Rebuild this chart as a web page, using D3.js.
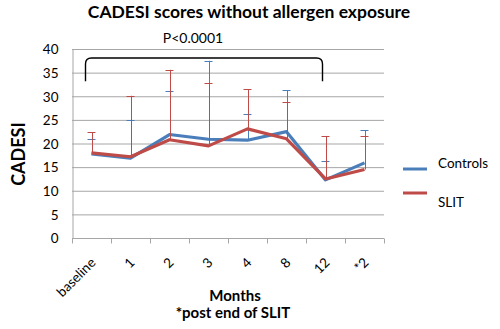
<!DOCTYPE html>
<html>
<head>
<meta charset="utf-8">
<script src="https://cdn.jsdelivr.net/npm/d3@7"></script>
<style>
body { margin: 0; background: #fff; }
text { font-family: Lato, "Open Sans", sans-serif; fill: #000; }
</style>
</head>
<body>
<div id="chart"></div>
<script>
let months = ["baseline", "1", "2", "3", "4", "8", "12", "*2"];
let controls = [17.8, 16.9, 21.9, 20.9, 20.7, 22.5, 12.3, 15.9];
let controlsErr = [3.2, 8.1, 9.3, 16.6, 5.5, 8.8, 4.0, 6.9];
let slit = [18.0, 17.2, 20.8, 19.5, 23.1, 21.0, 12.5, 14.5];
let slitErr = [4.4, 12.9, 14.8, 13.4, 8.4, 7.7, 9.1, 7.0];
let yTicks = [0, 5, 10, 15, 20, 25, 30, 35, 40];

let width = 500, height = 329;
let margin = {top: 49, right: 116, bottom: 91, left: 72};

let series = [
    {name: "Controls", values: controls, err: controlsErr, color: "#4a7ebb"},
    {name: "SLIT", values: slit, err: slitErr, color: "#be4b48"}
];

let svg = d3.select("#chart").append("svg").attr("width", width).attr("height", height);

let x = d3.scaleBand().domain(months).range([margin.left, width - margin.right]);
let y = d3.scaleLinear().domain([0, 40]).range([height - margin.bottom, margin.top]);

// gridlines
svg.append("g").selectAll("line").data(yTicks.slice(1)).enter().append("line")
    .attr("x1", margin.left).attr("x2", width - margin.right)
    .attr("y1", d => y(d) + 0.5).attr("y2", d => y(d) + 0.5)
    .attr("stroke", "#a6a6a6").attr("stroke-width", 1);

// y axis
let yAxis = svg.append("g").attr("transform", "translate(" + (margin.left + 0.5) + ",0.5)")
    .call(d3.axisLeft(y).tickValues(yTicks).tickSize(0).tickPadding(14));
yAxis.select(".domain").attr("stroke", "#a6a6a6");
yAxis.selectAll("text").style("font-size", "13.5px").style("font-family", "Lato, sans-serif");

// x axis, ticks on band edges
let xAxis = svg.append("g").attr("transform", "translate(0," + (y(0) + 0.5) + ")");
xAxis.append("line").attr("x1", margin.left).attr("x2", width - margin.right)
    .attr("stroke", "#a6a6a6");
xAxis.selectAll("line.tk").data(months.concat(["end"])).enter().append("line").attr("class", "tk")
    .attr("x1", (d, i) => Math.round(margin.left + i * x.step()) + 0.5)
    .attr("x2", (d, i) => Math.round(margin.left + i * x.step()) + 0.5)
    .attr("y1", 0).attr("y2", 5).attr("stroke", "#a6a6a6");
xAxis.selectAll("text").data(months).enter().append("text")
    .attr("transform", d => "translate(" + (x(d) + x.bandwidth() / 2 + 5) + ",25) rotate(-45)")
    .attr("text-anchor", "end").style("font-size", "13.5px").text(d => d);

// series + error bars
let line = d3.line().x((d, i) => x(months[i]) + x.bandwidth() / 2).y(d => y(d));

series.forEach(function(s) {
    let g = svg.append("g");
    g.append("path").datum(s.values).attr("d", line).attr("fill", "none")
        .attr("stroke", s.color).attr("stroke-width", 3.2).attr("stroke-linejoin", "round");
    let eb = g.selectAll("g.eb").data(s.values).enter().append("g").attr("class", "eb");
    eb.append("line")
        .attr("x1", (d, i) => Math.round(x(months[i]) + x.bandwidth() / 2) + 0.5)
        .attr("x2", (d, i) => Math.round(x(months[i]) + x.bandwidth() / 2) + 0.5)
        .attr("y1", d => y(d)).attr("y2", (d, i) => y(d + s.err[i]))
        .attr("stroke", s.color).attr("stroke-width", 1);
    eb.append("line")
        .attr("x1", (d, i) => x(months[i]) + x.bandwidth() / 2 - 4)
        .attr("x2", (d, i) => x(months[i]) + x.bandwidth() / 2 + 4)
        .attr("y1", (d, i) => Math.round(y(d + s.err[i])) + 0.5)
        .attr("y2", (d, i) => Math.round(y(d + s.err[i])) + 0.5)
        .attr("stroke", s.color).attr("stroke-width", 1);
});

// significance bracket
let bx1 = x("baseline") + x.bandwidth() / 2 - 6;
let bx2 = x("12") + x.bandwidth() / 2 - 3;
let by1 = y(38.1), by2 = y(33.2);
svg.append("path")
    .attr("d", "M" + bx1 + "," + by2 + " L" + bx1 + "," + (by1 + 6) + " Q" + bx1 + "," + by1 + " " + (bx1 + 6) + "," + by1 +
        " L" + (bx2 - 6) + "," + by1 + " Q" + bx2 + "," + by1 + " " + bx2 + "," + (by1 + 6) + " L" + bx2 + "," + by2)
    .attr("fill", "none").attr("stroke", "#000").attr("stroke-width", 1.4);
svg.append("text").attr("x", 193).attr("y", 43).attr("text-anchor", "middle")
    .style("font-size", "14px").text("P<0.0001");

// titles
svg.append("text").attr("x", 249).attr("y", 18).attr("text-anchor", "middle")
    .style("font-size", "17.5px").style("font-weight", "bold").text("CADESI scores without allergen exposure");
svg.append("text").attr("transform", "translate(25,154) rotate(-90)").attr("text-anchor", "middle")
    .style("font-size", "18px").style("font-weight", "bold").text("CADESI");
svg.append("text").attr("x", 235).attr("y", 301).attr("text-anchor", "middle")
    .style("font-size", "15px").style("font-weight", "bold").text("Months");
svg.append("text").attr("x", 233).attr("y", 318).attr("text-anchor", "middle")
    .style("font-size", "15px").style("font-weight", "bold").text("*post end of SLIT");

// legend
let legY = [169, 193], legTextY = [163, 202];
let legend = svg.append("g").selectAll("g").data(series).enter().append("g");
legend.append("line").attr("x1", 403).attr("x2", 427)
    .attr("y1", (d, i) => legY[i]).attr("y2", (d, i) => legY[i])
    .attr("stroke", d => d.color).attr("stroke-width", 3);
legend.append("text").attr("x", 438).attr("y", (d, i) => legTextY[i]).attr("dy", "0.35em")
    .style("font-size", "13.5px").text(d => d.name);
</script>
</body>
</html>
